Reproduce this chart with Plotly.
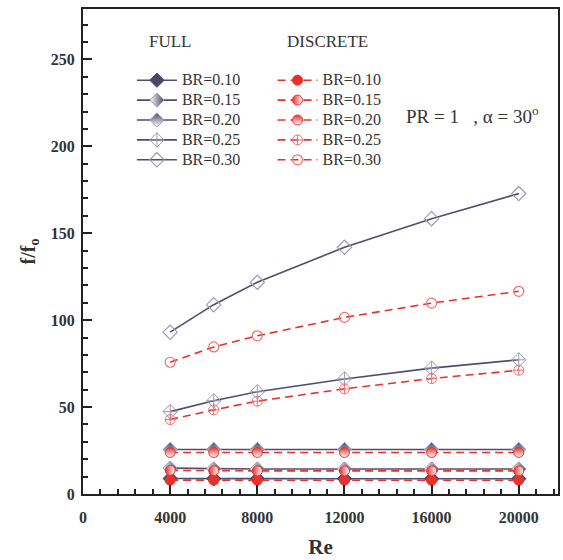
import plotly.graph_objects as go

# Reynolds numbers tested
re_vals = [4000, 6000, 8000, 12000, 16000, 20000]

# Friction factor ratio f/f0, full ribs
full_br010 = [8.9, 8.8, 8.8, 8.8, 8.8, 8.8]
full_br015 = [14.9, 14.5, 14.4, 14.4, 14.4, 14.4]
full_br020 = [25.6, 25.6, 25.6, 25.6, 25.6, 25.6]
full_br025 = [47.4, 53.6, 58.8, 66.2, 72.4, 77.2]
full_br030 = [93.1, 108.9, 121.8, 141.9, 158.4, 172.8]

# Friction factor ratio f/f0, discrete ribs
disc_br010 = [8.0, 7.9, 7.9, 7.9, 7.9, 7.9]
disc_br015 = [13.6, 13.4, 13.3, 13.3, 13.3, 13.3]
disc_br020 = [23.9, 23.9, 23.9, 23.9, 23.9, 23.9]
disc_br025 = [42.8, 48.4, 53.4, 60.5, 66.4, 71.2]
disc_br030 = [75.8, 84.6, 91.0, 101.6, 109.8, 116.6]

br_labels = ["BR=0.10", "BR=0.15", "BR=0.20", "BR=0.25", "BR=0.30"]

FULL_LINE = "#4f4d6e"
FULL_DARK = "#4a4868"
FULL_LIGHT = "#9d9bb2"
RED = "#e8312c"
RED_LIGHT = "#f07070"
SERIF = "Liberation Serif"


def legend_name(label):
    # larger label text while the legend row pitch follows the smaller legend font
    return f'<span style="font-size:16px">{label}</span>'


fig = go.Figure()

full_series = [full_br010, full_br015, full_br020, full_br025, full_br030]
full_markers = [
    dict(symbol="diamond", color=FULL_DARK, line=dict(color=FULL_DARK, width=1)),
    dict(symbol="diamond", color="white", line=dict(color=FULL_LIGHT, width=1),
         gradient=dict(type="horizontal", color=FULL_DARK)),
    dict(symbol="diamond", color=FULL_DARK, line=dict(color=FULL_LIGHT, width=1),
         gradient=dict(type="vertical", color="white")),
    dict(symbol="diamond-cross-open", color=FULL_LIGHT, line=dict(color=FULL_LIGHT, width=1)),
    dict(symbol="diamond-open", color=FULL_LIGHT, line=dict(color=FULL_LIGHT, width=1.2)),
]
for vals, mk, name in zip(full_series, full_markers, br_labels):
    fig.add_trace(go.Scatter(
        x=re_vals, y=vals, mode="lines+markers", name=legend_name(name),
        line=dict(color=FULL_LINE, width=1.6),
        marker=dict(size=11, **mk),
        legend="legend",
    ))

disc_series = [disc_br010, disc_br015, disc_br020, disc_br025, disc_br030]
disc_markers = [
    dict(symbol="circle", color=RED, line=dict(color=RED, width=1)),
    dict(symbol="circle", color=RED, line=dict(color=RED, width=1),
         gradient=dict(type="horizontal", color="white")),
    dict(symbol="circle", color=RED, line=dict(color=RED, width=1),
         gradient=dict(type="vertical", color="white")),
    dict(symbol="circle-cross-open", color=RED_LIGHT, line=dict(color=RED_LIGHT, width=1)),
    dict(symbol="circle-open", color=RED_LIGHT, line=dict(color=RED_LIGHT, width=1.2)),
]
for vals, mk, name in zip(disc_series, disc_markers, br_labels):
    fig.add_trace(go.Scatter(
        x=re_vals, y=vals, mode="lines+markers", name=legend_name(name),
        line=dict(color=RED, width=1.6, dash="8px,5px"),
        marker=dict(size=10, **mk),
        legend="legend2",
    ))

axis_common = dict(
    showline=True, linecolor="#222", linewidth=2, mirror=True,
    ticks="inside", ticklen=9, tickwidth=2, tickcolor="#222",
    showgrid=False, zeroline=False,
    tickfont=dict(family=SERIF, size=16, color="#333"),
    tickprefix="<b>", ticksuffix="</b>", tickformat="d",
)

fig.update_xaxes(
    range=[0, 21800], tick0=0, dtick=4000, ticklabelstandoff=8,
    minor=dict(dtick=800, ticks="inside", ticklen=5, tickwidth=1.5, tickcolor="#222"),
    title=dict(text="<b>Re</b>", font=dict(family=SERIF, size=21, color="#333"), standoff=14),
    **axis_common,
)
fig.update_yaxes(
    range=[0, 279], tick0=0, dtick=50, ticklabelstandoff=3,
    minor=dict(dtick=10, ticks="inside", ticklen=5, tickwidth=1.5, tickcolor="#222"),
    title=dict(text="<b>f/f<sub>o</sub></b>", font=dict(family=SERIF, size=20, color="#333"), standoff=10),
    **axis_common,
)

legend_common = dict(
    bgcolor="rgba(0,0,0,0)", borderwidth=0,
    font=dict(family=SERIF, size=13, color="#333"),
    xanchor="left", yanchor="top", tracegroupgap=0, itemwidth=40,
)
fig.update_layout(
    legend=dict(x=0.103, y=0.884, **legend_common),
    legend2=dict(x=0.399, y=0.884, **legend_common),
)

W, H = 563, 560
ML, MR, MT, MB = 83, 3, 9, 66
pw, ph = W - ML - MR, H - MT - MB


def px_to_paper(px, py):
    return (px - ML) / pw, 1 - (py - MT) / ph


for text, px, py in [("FULL", 147, 42), ("DISCRETE", 286, 42)]:
    ax_, ay_ = px_to_paper(px, py)
    fig.add_annotation(text=text, x=ax_, y=ay_, xref="paper", yref="paper",
                       xanchor="left", yanchor="middle", showarrow=False,
                       font=dict(family=SERIF, size=17, color="#333"))

fig.add_annotation(text="PR = 1   , \u03b1 = 30<sup>o</sup>", x=14750, y=218,
                   xref="x", yref="y", xanchor="left", yanchor="middle", showarrow=False,
                   font=dict(family=SERIF, size=19, color="#333"))

fig.update_layout(
    width=W, height=H,
    margin=dict(l=ML, r=MR, t=MT, b=MB),
    paper_bgcolor="white", plot_bgcolor="white",
    font=dict(family=SERIF),
)

fig.write_html("out.html")
